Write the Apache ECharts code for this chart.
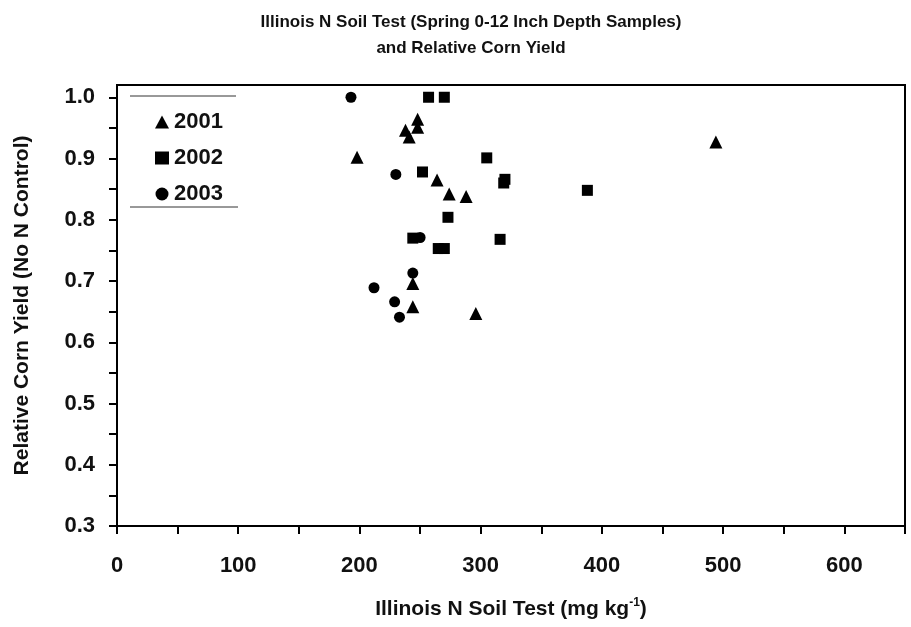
<!DOCTYPE html>
<html>
<head>
<meta charset="utf-8">
<title>Illinois N Soil Test and Relative Corn Yield</title>
<script src="https://cdn.jsdelivr.net/npm/echarts@6/dist/echarts.min.js"></script>
<style>
  html, body { margin: 0; padding: 0; background: #fff; }
  #chart { width: 911px; height: 627px; }
</style>
</head>
<body>
<div id="chart"></div>
<script>
// data: [soil test mg/kg, relative yield]
const years = ['2001', '2002', '2003']
const data2001 = [
  [198, 0.902], [238, 0.946], [241, 0.935], [248, 0.951], [248, 0.964],
  [264, 0.865], [274, 0.842], [288, 0.838], [244, 0.696], [244, 0.658],
  [296, 0.647], [494, 0.927]
]
const data2002 = [
  [257, 1.0], [270, 1.0], [305, 0.901], [252, 0.878], [320, 0.866],
  [319, 0.860], [388, 0.848], [273, 0.804], [244, 0.770], [265, 0.753],
  [270, 0.753], [316, 0.768]
]
const data2003 = [
  [193, 1.0], [230, 0.874], [250, 0.771], [244, 0.713], [212, 0.689],
  [229, 0.666], [233, 0.641]
]
const yTicks = [0.3, 0.35, 0.4, 0.45, 0.5, 0.55, 0.6, 0.65, 0.7, 0.75, 0.8, 0.85, 0.9, 0.95, 1.0]
const yLabels = [0.3, 0.4, 0.5, 0.6, 0.7, 0.8, 0.9, 1.0]
const xTicks = [0, 50, 100, 150, 200, 250, 300, 350, 400, 450, 500, 550, 600, 650]
const xLabels = [0, 100, 200, 300, 400, 500, 600]

const font = 'Liberation Sans, Arial, sans-serif'
const symbols = ['triangle', 'rect', 'circle']
const sizes = [13, 11, 11]

const myChart = echarts.init(document.getElementById('chart'))
myChart.setOption({
  animation: false,
  title: {
    text: 'Illinois N Soil Test (Spring 0-12 Inch Depth Samples)\nand Relative Corn Yield',
    left: 466,
    textAlign: 'center',
    top: 4,
    textStyle: {
      fontFamily: font,
      fontSize: 17,
      fontWeight: 'bold',
      color: '#111',
      lineHeight: 26
    }
  },
  grid: {
    left: 117,
    top: 85,
    right: 6,
    bottom: 101,
    containLabel: false,
    outerBoundsMode: 'none',
    show: true,
    borderColor: '#000',
    borderWidth: 2
  },
  legend: {
    orient: 'vertical',
    left: 150,
    top: 106,
    itemGap: 14,
    itemWidth: 14,
    itemHeight: 13,
    data: years,
    textStyle: {
      fontFamily: font,
      fontSize: 22,
      fontWeight: 'bold',
      color: '#111'
    }
  },
  xAxis: {
    type: 'value',
    min: 0,
    max: 650,
    name: '{a|Illinois N Soil Test (mg kg}{b|-1}{a|)}',
    nameLocation: 'middle',
    nameGap: 71,
    nameTextStyle: {
      rich: {
        a: { fontFamily: font, fontSize: 21, fontWeight: 'bold', color: '#111' },
        b: { fontFamily: font, fontSize: 12, fontWeight: 'bold', color: '#111', verticalAlign: 'top', padding: [0, 0, 12, 0] }
      }
    },
    splitLine: { show: false },
    axisLine: { lineStyle: { color: '#000', width: 2 } },
    axisTick: { show: true, length: 8, customValues: xTicks, lineStyle: { color: '#000', width: 2 } },
    axisLabel: {
      customValues: xLabels,
      margin: 29,
      fontFamily: font,
      fontSize: 22,
      fontWeight: 'bold',
      color: '#111'
    }
  },
  yAxis: {
    type: 'value',
    min: 0.3,
    max: 1.02,
    name: 'Relative Corn Yield (No N Control)',
    nameLocation: 'middle',
    nameGap: 84,
    nameTextStyle: {
      fontFamily: font,
      fontSize: 21,
      fontWeight: 'bold',
      color: '#111'
    },
    splitLine: { show: false },
    axisLine: { lineStyle: { color: '#000', width: 2 } },
    axisTick: { show: true, length: 8, customValues: yTicks, lineStyle: { color: '#000', width: 2 } },
    axisLabel: {
      customValues: yLabels,
      margin: 22,
      formatter: v => v.toFixed(1),
      fontFamily: font,
      fontSize: 22,
      fontWeight: 'bold',
      color: '#111'
    }
  },
  graphic: [
    { type: 'line', shape: { x1: 130, y1: 96, x2: 236, y2: 96 }, style: { stroke: '#333', lineWidth: 1 } },
    { type: 'line', shape: { x1: 130, y1: 207, x2: 238, y2: 207 }, style: { stroke: '#333', lineWidth: 1 } }
  ],
  series: [data2001, data2002, data2003].map((d, i) => ({
    name: years[i],
    type: 'scatter',
    symbol: symbols[i],
    symbolSize: sizes[i],
    itemStyle: { color: '#000', opacity: 1 },
    data: d
  }))
})
</script>
</body>
</html>
